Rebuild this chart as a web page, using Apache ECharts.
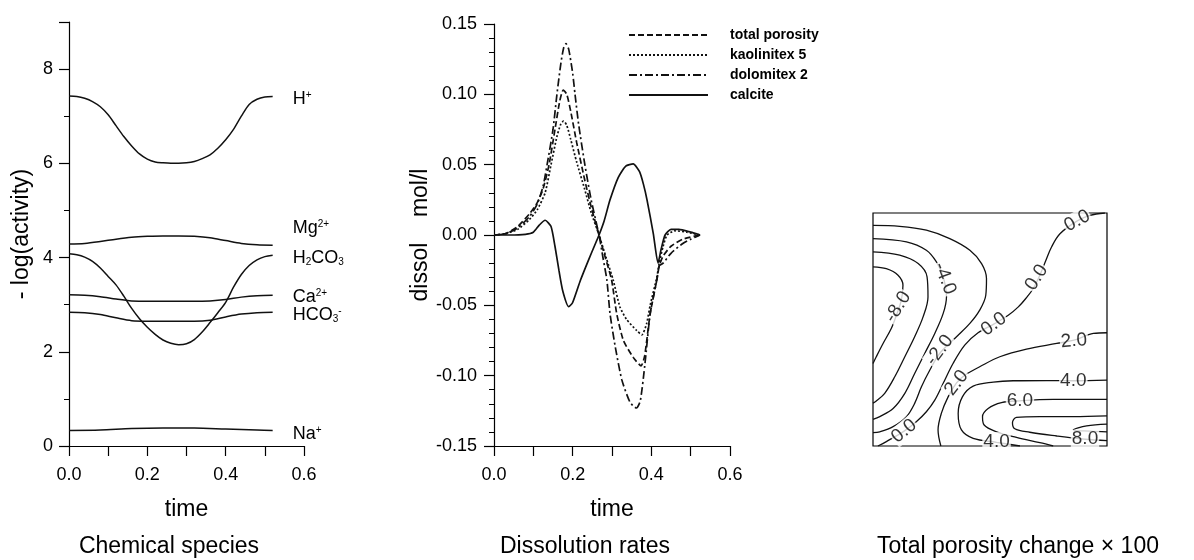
<!DOCTYPE html>
<html>
<head>
<meta charset="utf-8">
<script src="https://cdn.jsdelivr.net/npm/echarts@6/dist/echarts.min.js"></script>
<style>
html, body { margin: 0; padding: 0; background: #fff; }
#chart { width: 1194px; height: 560px; }
</style>
</head>
<body>
<div id="chart"></div>
<script>
// ---- left panel: chemical species, -log(activity) against time
var hPlus = [[0,7.43],[0.02,7.42],[0.04,7.38],[0.06,7.31],[0.08,7.2],[0.10,7.03],[0.12,6.8],[0.14,6.57],[0.16,6.37],[0.18,6.2],[0.20,6.09],[0.22,6.03],[0.24,6.01],[0.26,6.0],[0.28,6.0],[0.30,6.01],[0.32,6.04],[0.34,6.1],[0.36,6.18],[0.38,6.32],[0.40,6.5],[0.42,6.72],[0.44,7.0],[0.46,7.25],[0.48,7.36],[0.50,7.41],[0.52,7.42]];
var mg = [[0,4.29],[0.04,4.3],[0.08,4.34],[0.12,4.39],[0.16,4.43],[0.20,4.45],[0.24,4.46],[0.28,4.46],[0.32,4.45],[0.36,4.42],[0.40,4.36],[0.44,4.3],[0.48,4.27],[0.52,4.26]];
var h2co3 = [[0,4.08],[0.02,4.06],[0.04,4.01],[0.06,3.92],[0.08,3.78],[0.10,3.6],[0.12,3.42],[0.14,3.18],[0.16,2.92],[0.18,2.7],[0.20,2.52],[0.22,2.37],[0.24,2.25],[0.26,2.18],[0.28,2.15],[0.30,2.17],[0.32,2.26],[0.34,2.42],[0.36,2.62],[0.38,2.83],[0.40,3.05],[0.42,3.37],[0.44,3.64],[0.46,3.83],[0.48,3.95],[0.50,4.02],[0.52,4.05]];
var ca = [[0,3.21],[0.04,3.2],[0.08,3.17],[0.12,3.12],[0.16,3.08],[0.20,3.07],[0.24,3.07],[0.28,3.07],[0.32,3.07],[0.36,3.08],[0.40,3.11],[0.44,3.16],[0.48,3.19],[0.52,3.2]];
var hco3 = [[0,2.84],[0.04,2.83],[0.08,2.79],[0.12,2.72],[0.16,2.66],[0.20,2.65],[0.24,2.65],[0.28,2.65],[0.32,2.65],[0.36,2.67],[0.40,2.74],[0.44,2.8],[0.48,2.83],[0.52,2.84]];
var na = [[0,0.33],[0.08,0.34],[0.16,0.37],[0.24,0.38],[0.32,0.38],[0.40,0.36],[0.48,0.34],[0.52,0.33]];

// ---- middle panel: dissolution rates
var totalPorosity = [[0,0],[0.03,0.001],[0.06,0.006],[0.09,0.015],[0.11,0.023],[0.125,0.033],[0.14,0.05],[0.155,0.075],[0.167,0.095],[0.176,0.103],[0.185,0.1],[0.195,0.088],[0.21,0.066],[0.23,0.04],[0.247,0.02],[0.267,0],[0.283,-0.016],[0.299,-0.032],[0.312,-0.056],[0.329,-0.075],[0.354,-0.087],[0.374,-0.093],[0.383,-0.086],[0.397,-0.056],[0.414,-0.032],[0.42,-0.022],[0.43,-0.015],[0.45,-0.008],[0.48,-0.003],[0.524,0]];
var kaolinite = [[0,0],[0.03,0.001],[0.06,0.004],[0.09,0.011],[0.11,0.018],[0.13,0.03],[0.145,0.05],[0.16,0.07],[0.17,0.079],[0.177,0.081],[0.185,0.078],[0.195,0.068],[0.21,0.052],[0.23,0.033],[0.247,0.016],[0.267,0],[0.285,-0.016],[0.303,-0.032],[0.32,-0.051],[0.337,-0.06],[0.363,-0.068],[0.376,-0.071],[0.388,-0.063],[0.397,-0.05],[0.414,-0.03],[0.42,-0.02],[0.43,-0.008],[0.44,0],[0.46,0.003],[0.49,0.002],[0.524,0]];
var dolomite = [[0,0],[0.03,0.001],[0.06,0.005],[0.09,0.013],[0.11,0.022],[0.125,0.035],[0.135,0.05],[0.15,0.075],[0.16,0.1],[0.17,0.122],[0.177,0.133],[0.183,0.136],[0.19,0.132],[0.20,0.115],[0.206,0.1],[0.215,0.079],[0.231,0.05],[0.247,0.025],[0.267,0],[0.277,-0.016],[0.287,-0.032],[0.295,-0.056],[0.308,-0.079],[0.325,-0.103],[0.346,-0.119],[0.362,-0.123],[0.372,-0.118],[0.384,-0.091],[0.397,-0.056],[0.414,-0.032],[0.42,-0.022],[0.43,-0.02],[0.45,-0.013],[0.48,-0.006],[0.50,-0.003],[0.524,0]];
var calcite = [[0,0],[0.04,0],[0.08,0.0005],[0.10,0.002],[0.115,0.007],[0.13,0.0105],[0.145,0.006],[0.155,-0.008],[0.165,-0.025],[0.175,-0.04],[0.19,-0.051],[0.20,-0.048],[0.22,-0.032],[0.24,-0.018],[0.255,-0.008],[0.267,0],[0.28,0.01],[0.295,0.025],[0.316,0.041],[0.335,0.049],[0.354,0.0505],[0.37,0.045],[0.38,0.036],[0.389,0.025],[0.405,0.001],[0.417,-0.02],[0.425,-0.01],[0.435,0],[0.45,0.004],[0.47,0.004],[0.50,0.002],[0.524,0]];

// ---- right panel: total porosity change x 100, contour lines (unit square)
var cMinus8 = [[0,0.769],[0.057,0.761],[0.107,0.733],[0.128,0.69],[0.121,0.626],[0.1,0.561],[0.078,0.504],[0.043,0.44],[0.014,0.383],[0,0.354]];
var cMinus6 = [[0,0.833],[0.114,0.819],[0.193,0.783],[0.231,0.726],[0.235,0.64],[0.214,0.554],[0.178,0.469],[0.136,0.383],[0.093,0.297],[0.05,0.226],[0.014,0.193],[0,0.184]];
var cMinus4 = [[0,0.89],[0.143,0.876],[0.228,0.84],[0.271,0.79],[0.3,0.726],[0.314,0.64],[0.3,0.569],[0.264,0.483],[0.221,0.397],[0.178,0.311],[0.136,0.226],[0.086,0.161],[0.029,0.126],[0,0.114]];
var cMinus2 = [[0,0.947],[0.114,0.943],[0.228,0.926],[0.328,0.89],[0.414,0.84],[0.464,0.783],[0.485,0.719],[0.482,0.647],[0.456,0.583],[0.414,0.526],[0.357,0.469],[0.285,0.397],[0.243,0.326],[0.207,0.254],[0.178,0.183],[0.143,0.126],[0.086,0.083],[0.029,0.061],[0,0.057]];
var cZero = [[0.991,1],[0.927,0.99],[0.873,0.966],[0.799,0.911],[0.763,0.854],[0.739,0.797],[0.713,0.733],[0.685,0.676],[0.656,0.637],[0.621,0.597],[0.578,0.561],[0.516,0.523],[0.449,0.486],[0.392,0.433],[0.342,0.354],[0.3,0.269],[0.264,0.197],[0.228,0.147],[0.185,0.104],[0.133,0.064],[0.057,0.019],[0.021,0]];
var cPlus2 = [[1,0.486],[0.942,0.483],[0.859,0.454],[0.785,0.44],[0.656,0.416],[0.542,0.383],[0.456,0.34],[0.392,0.304],[0.357,0.271],[0.321,0.211],[0.292,0.14],[0.278,0.069],[0.29,0]];
var cPlus4 = [[1,0.283],[0.856,0.28],[0.742,0.281],[0.599,0.28],[0.514,0.274],[0.428,0.257],[0.382,0.211],[0.364,0.14],[0.378,0.069],[0.428,0.033],[0.528,0.016],[0.628,0]];
var cPlus6 = [[1,0.2],[0.77,0.2],[0.628,0.194],[0.549,0.186],[0.492,0.161],[0.468,0.126],[0.475,0.09],[0.528,0.061],[0.613,0.037],[0.713,0.014],[0.77,0]];
var cPlus8 = [[1,0.129],[0.856,0.126],[0.713,0.126],[0.613,0.123],[0.596,0.1],[0.606,0.074],[0.67,0.059],[0.785,0.043],[0.906,0.029],[1,0.023]];
var cPlus10 = [[1,0.094],[0.913,0.086],[0.856,0.069],[0.927,0.064],[1,0.061]];
var contourLines = [cMinus8, cMinus6, cMinus4, cMinus2, cZero, cPlus2, cPlus4, cPlus6, cPlus8, cPlus10];

var contourLabelText = ['-8.0', '-4.0', '-2.0', '0.0', '0.0', '0.0', '0.0', '2.0', '2.0', '4.0', '4.0', '6.0', '8.0'];
var contourLabelX = [0.107, 0.307, 0.285, 0.873, 0.699, 0.516, 0.133, 0.859, 0.357, 0.856, 0.528, 0.628, 0.906];
var contourLabelY = [0.597, 0.719, 0.411, 0.966, 0.723, 0.523, 0.064, 0.451, 0.271, 0.28, 0.019, 0.193, 0.029];
var contourLabelAngle = [58, -69, 53, 28, 58, 36, 40, 5, 52, 0, 0, 0, 0];

var font = 'Liberation Sans';
var ink = '#111';

function axisX(grid) {
  return {
    gridIndex: grid, type: 'value', min: 0, max: 0.6, interval: 0.1,
    name: 'time', nameLocation: 'middle', nameGap: 52,
    nameTextStyle: { fontSize: 23, fontFamily: font, color: '#000' },
    axisLine: { onZero: false, lineStyle: { color: '#000', width: 1.2 } },
    axisTick: { length: 10, lineStyle: { color: '#000', width: 1.2 } },
    splitLine: { show: false },
    axisLabel: {
      fontSize: 18, fontFamily: font, color: '#000', margin: 20,
      formatter: function (v) { return Math.round(v * 10) % 2 === 0 ? v.toFixed(1) : ''; }
    }
  };
}

function speciesSeries(name, data, rich, dy) {
  return {
    name: name, type: 'line', xAxisIndex: 0, yAxisIndex: 0, data: data,
    smooth: 0.3, symbol: 'none', silent: true,
    lineStyle: { color: ink, width: 1.5 },
    endLabel: {
      show: true, formatter: rich, distance: 20, offset: [0, dy], color: '#000',
      fontFamily: font, fontSize: 18,
      rich: {
        n: { fontSize: 18, fontFamily: font, color: '#000' },
        sup: { fontSize: 10, fontFamily: font, color: '#000', verticalAlign: 'top' },
        sub: { fontSize: 10, fontFamily: font, color: '#000', verticalAlign: 'bottom' }
      }
    }
  };
}

function rateSeries(name, data, type) {
  return {
    name: name, type: 'line', xAxisIndex: 1, yAxisIndex: 1, data: data,
    smooth: 0.2, symbol: 'none', silent: true,
    itemStyle: { color: ink },
    lineStyle: { color: ink, width: 1.7, type: type }
  };
}

var series = [
  speciesSeries('H+', hPlus, '{n|H}{sup|+}', 3),
  speciesSeries('Mg2+', mg, '{n|Mg}{sup|2+}', -17),
  speciesSeries('H2CO3', h2co3, '{n|H}{sub|2}{n|CO}{sub|3}', 3),
  speciesSeries('Ca2+', ca, '{n|Ca}{sup|2+}', 2),
  speciesSeries('HCO3-', hco3, '{n|HCO}{sub|3}{sup|-}', 3),
  speciesSeries('Na+', na, '{n|Na}{sup|+}', 4),
  rateSeries('total porosity', totalPorosity, [6, 3]),
  rateSeries('kaolinitex 5', kaolinite, [2, 2]),
  rateSeries('dolomitex 2', dolomite, [8, 3, 2, 3]),
  rateSeries('calcite', calcite, 'solid')
];

contourLines.forEach(function (line) {
  series.push({
    type: 'line', xAxisIndex: 2, yAxisIndex: 2, data: line,
    smooth: 0.35, symbol: 'none', silent: true, z: 2,
    lineStyle: { color: ink, width: 1.3 }
  });
});

series.push({
  type: 'scatter', xAxisIndex: 2, yAxisIndex: 2, silent: true, z: 5,
  symbolSize: 1, itemStyle: { color: 'rgba(0,0,0,0)' },
  data: contourLabelText.map(function (t, i) {
    return { name: t, value: [contourLabelX[i], contourLabelY[i]], label: { rotate: contourLabelAngle[i] } };
  }),
  label: {
    show: true, position: 'inside', formatter: '{b}',
    fontSize: 19, fontFamily: font, color: '#000',
    backgroundColor: '#fff', padding: [0, 1]
  }
});

var chart = echarts.init(document.getElementById('chart'));
chart.setOption({
  animation: false,
  backgroundColor: '#fff',
  grid: [
    { left: 69, top: 22, width: 235, height: 424, outerBoundsMode: 'none' },
    { left: 494, top: 24, width: 236, height: 422, outerBoundsMode: 'none' },
    { left: 873, top: 213, width: 234, height: 233, show: true, borderColor: '#000', borderWidth: 1.2, backgroundColor: 'transparent', outerBoundsMode: 'none' }
  ],
  xAxis: [
    axisX(0),
    axisX(1),
    { gridIndex: 2, type: 'value', min: 0, max: 1, show: false }
  ],
  yAxis: [
    {
      gridIndex: 0, type: 'value', min: 0, max: 9, interval: 2,
      name: '- log(activity)', nameLocation: 'middle', nameGap: 36,
      nameTextStyle: { fontSize: 23, fontFamily: font, color: '#000' },
      axisLine: { show: true, lineStyle: { color: '#000', width: 1.2 } },
      axisTick: { show: true, length: 10, lineStyle: { color: '#000', width: 1.2 } },
      minorTick: { show: true, splitNumber: 2, length: 5, lineStyle: { color: '#000' } },
      splitLine: { show: false },
      axisLabel: {
        fontSize: 18, fontFamily: font, color: '#000', margin: 16,
        formatter: function (v) { return v % 2 === 0 ? String(v) : ''; }
      }
    },
    {
      gridIndex: 1, type: 'value', min: -0.15, max: 0.15, interval: 0.05,
      name: 'dissol    mol/l', nameLocation: 'middle', nameGap: 56,
      nameTextStyle: { fontSize: 23, fontFamily: font, color: '#000' },
      axisLine: { show: true, onZero: false, lineStyle: { color: '#000', width: 1.2 } },
      axisTick: { show: true, length: 10, lineStyle: { color: '#000', width: 1.2 } },
      minorTick: { show: true, splitNumber: 5, length: 5, lineStyle: { color: '#000' } },
      splitLine: { show: false },
      axisLabel: {
        fontSize: 18, fontFamily: font, color: '#000', margin: 17,
        formatter: function (v) { return v.toFixed(2); }
      }
    },
    { gridIndex: 2, type: 'value', min: 0, max: 1, show: false }
  ],
  legend: {
    orient: 'vertical', left: 628, top: 28, padding: 0,
    itemWidth: 79, itemHeight: 12, itemGap: 6, selectedMode: false,
    itemStyle: { opacity: 0 },
    data: ['total porosity', 'kaolinitex 5', 'dolomitex 2', 'calcite'],
    textStyle: { fontSize: 14, fontWeight: 'bold', fontFamily: font, color: '#000', padding: [0, 0, 0, 17] }
  },
  graphic: [
    { type: 'text', style: { x: 169, y: 547, text: 'Chemical species', textAlign: 'center', textVerticalAlign: 'middle', fontSize: 23, fontFamily: font, fill: '#000' } },
    { type: 'text', style: { x: 585, y: 547, text: 'Dissolution rates', textAlign: 'center', textVerticalAlign: 'middle', fontSize: 23, fontFamily: font, fill: '#000' } },
    { type: 'text', style: { x: 1018, y: 547, text: 'Total porosity change \u00d7 100', textAlign: 'center', textVerticalAlign: 'middle', fontSize: 23, fontFamily: font, fill: '#000' } }
  ],
  series: series
});
</script>
</body>
</html>
